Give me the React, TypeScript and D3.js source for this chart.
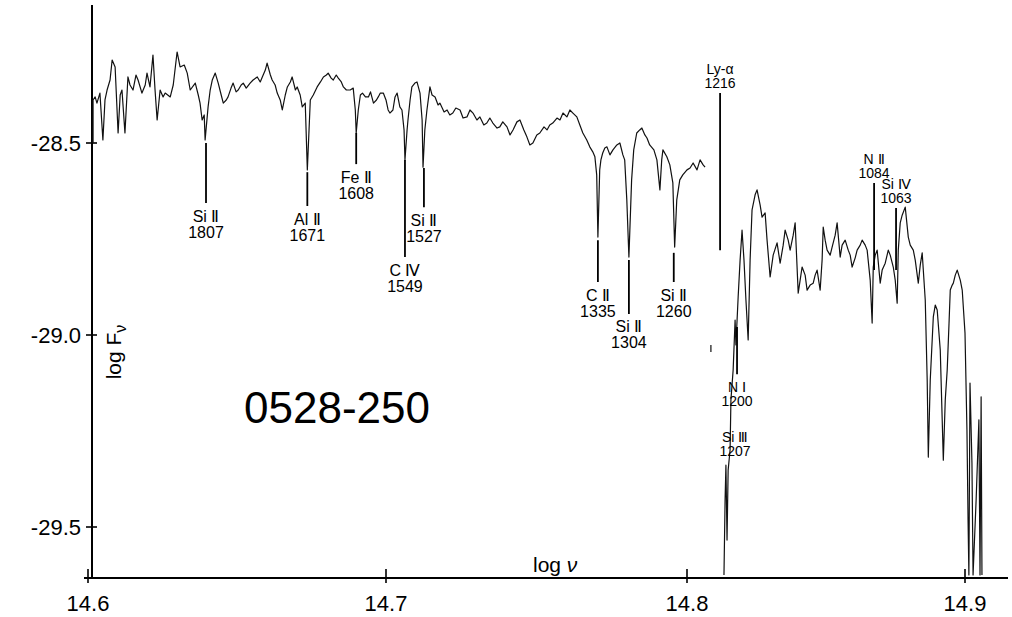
import React from 'react';
import * as d3 from 'd3';

// axis ticks
const xTicks = [14.6, 14.7, 14.8, 14.9];
const xTickLabels = ['14.6', '14.7', '14.8', '14.9'];
const yTicks = [-28.5, -29.0, -29.5];
const yTickLabels = ['-28.5', '-29.0', '-29.5'];

// spectrum of 0528-250 (null = gap in the trace)
const specNu = [
  14.6017, 14.6017, 14.6024, 14.603, 14.604, 14.605, 14.6057, 14.6064, 14.6074, 14.6081,
  14.6091, 14.6101, 14.6108, 14.6114, 14.6124, 14.6134, 14.6141, 14.6151, 14.6161, 14.6168,
  14.6181, 14.6192, 14.6198, 14.6208, 14.6218, 14.6225, 14.6232, 14.6242, 14.6252, 14.6259,
  14.6276, 14.6286, 14.6299, 14.6309, 14.6323, 14.6333, 14.6343, 14.636, 14.637, 14.6376,
  14.6383, 14.639, 14.6393, 14.6403, 14.641, 14.6417, 14.6427, 14.6437, 14.6447, 14.6454,
  14.6464, 14.647, 14.648, 14.6487, 14.6497, 14.6504, 14.6514, 14.6521, 14.6531, 14.6544,
  14.6554, 14.6568, 14.6578, 14.6585, 14.6595, 14.6601, 14.6612, 14.6618, 14.6628, 14.6635,
  14.6645, 14.6652, 14.6662, 14.6669, 14.6679, 14.6685, 14.6696, 14.6702, 14.6712, 14.6719,
  14.6729, 14.6736, 14.6746, 14.6756, 14.6769, 14.678, 14.679, 14.68, 14.6806, 14.6816,
  14.6823, 14.6833, 14.684, 14.685, 14.6857, 14.6867, 14.688, 14.689, 14.6897, 14.69,
  14.6907, 14.6914, 14.6921, 14.6931, 14.6941, 14.6948, 14.6958, 14.6968, 14.6974, 14.6981,
  14.6991, 14.7, 14.7007, 14.7013, 14.7023, 14.703, 14.7037, 14.7046, 14.7053, 14.706,
  14.7063, 14.707, 14.7073, 14.708, 14.7086, 14.7096, 14.7103, 14.7113, 14.712, 14.7123,
  14.7129, 14.7136, 14.7146, 14.7153, 14.7163, 14.7173, 14.7179, 14.7193, 14.7203, 14.7212,
  14.7222, 14.7232, 14.7246, 14.7256, 14.7269, 14.7279, 14.7289, 14.7302, 14.7312, 14.7325,
  14.7335, 14.7345, 14.7355, 14.7369, 14.7378, 14.7388, 14.7402, 14.7412, 14.7422, 14.7435,
  14.7445, 14.7458, 14.7468, 14.7478, 14.7488, 14.7501, 14.7511, 14.7525, 14.7535, 14.7544,
  14.7554, 14.7568, 14.7578, 14.7588, 14.7601, 14.7611, 14.7621, 14.7634, 14.7644, 14.7654,
  14.7667, 14.7677, 14.7687, 14.7694, 14.77, 14.7704, 14.771, 14.7714, 14.772, 14.7727,
  14.7734, 14.7744, 14.7754, 14.7767, 14.7777, 14.7787, 14.7793, 14.78, 14.7807, 14.7816,
  14.7823, 14.7833, 14.7843, 14.785, 14.786, 14.7867, 14.7876, 14.789, 14.79, 14.791,
  14.7916, 14.792, 14.7933, 14.7943, 14.7953, 14.7959, 14.7966, 14.7976, 14.7986, 14.8,
  14.8011, 14.8022, 14.8036, 14.8047, 14.8058, 14.8065,
  null,
  14.8086, 14.8086,
  null,
  14.8133, 14.8137, 14.814, 14.8144, 14.8148, 14.8155, 14.8158, 14.8166, 14.8173, 14.8176,
  14.8184, 14.8191, 14.8198, 14.8205, 14.8212, 14.822, 14.8227, 14.8234, 14.8245, 14.8252,
  14.8263, 14.827, 14.8281, 14.8288, 14.8299, 14.831, 14.8324, 14.8335, 14.8346, 14.8353,
  14.8364, 14.8371, 14.8382, 14.8389, 14.84, 14.8407, 14.8414, 14.8425, 14.8432, 14.8443,
  14.8454, 14.8461, 14.8468, 14.8479, 14.8486, 14.849, 14.8497, 14.8504, 14.8515, 14.8522,
  14.8533, 14.854, 14.8551, 14.8558, 14.8569, 14.858, 14.8587, 14.8594, 14.8605, 14.8612,
  14.8623, 14.863, 14.8641, 14.8648, 14.8659, 14.8666, 14.867, 14.8677, 14.8684, 14.8695,
  14.8702, 14.8713, 14.8724, 14.8731, 14.8742, 14.8749, 14.8756, 14.876, 14.8767, 14.8774,
  14.8785, 14.8796, 14.8803, 14.8814, 14.8821, 14.8832, 14.8839, 14.8846, 14.8857, 14.8864,
  14.8868, 14.8875, 14.8886, 14.8893, 14.89, 14.8911, 14.8918, 14.8922, 14.8929, 14.8936,
  14.8943, 14.8947, 14.8954, 14.8958, 14.8965, 14.8972, 14.8983, 14.899, 14.9, 14.9007,
  14.9011, 14.9014, 14.9018, 14.9025, 14.9029, 14.904, 14.905, 14.9054, 14.9058, 14.9061,
];
const specLogF = [
  -28.5, -28.388, -28.38, -28.396, -28.37, -28.492, -28.388, -28.362, -28.336, -28.284,
  -28.302, -28.474, -28.375, -28.362, -28.474, -28.328, -28.349, -28.362, -28.323, -28.336,
  -28.37, -28.349, -28.318, -28.354, -28.271, -28.362, -28.44, -28.362, -28.38, -28.37,
  -28.38, -28.349, -28.263, -28.302, -28.297, -28.318, -28.362, -28.344, -28.375, -28.396,
  -28.44, -28.427, -28.492, -28.406, -28.362, -28.336, -28.318, -28.344, -28.375, -28.396,
  -28.388, -28.38, -28.357, -28.344, -28.367, -28.362, -28.349, -28.344, -28.357, -28.344,
  -28.336, -28.328, -28.341, -28.328, -28.31, -28.292, -28.323, -28.336, -28.349, -28.37,
  -28.388, -28.414, -28.375, -28.354, -28.341, -28.328, -28.362, -28.354, -28.375, -28.406,
  -28.396, -28.57, -28.388, -28.375, -28.354, -28.341, -28.328, -28.323, -28.318, -28.331,
  -28.336, -28.323, -28.331, -28.341, -28.354, -28.362, -28.362, -28.357, -28.414, -28.474,
  -28.414, -28.375, -28.37, -28.38, -28.38, -28.367, -28.396, -28.388, -28.38, -28.37,
  -28.37, -28.388, -28.414, -28.422, -28.414, -28.38, -28.37, -28.406, -28.414, -28.466,
  -28.544, -28.466, -28.44, -28.388, -28.354, -28.344, -28.341, -28.37, -28.44, -28.563,
  -28.466, -28.414, -28.354, -28.375, -28.38, -28.401, -28.396, -28.419, -28.414, -28.427,
  -28.422, -28.409, -28.414, -28.435, -28.432, -28.414, -28.422, -28.44, -28.432, -28.453,
  -28.448, -28.435, -28.448, -28.461, -28.458, -28.445, -28.458, -28.479, -28.466, -28.445,
  -28.44, -28.466, -28.484, -28.505, -28.5, -28.479, -28.474, -28.458, -28.466, -28.453,
  -28.448, -28.435, -28.44, -28.422, -28.432, -28.414, -28.422, -28.432, -28.453, -28.474,
  -28.492, -28.51, -28.523, -28.536, -28.583, -28.745, -28.57, -28.544, -28.526, -28.513,
  -28.51, -28.531, -28.518, -28.505, -28.5, -28.531, -28.544, -28.648, -28.797, -28.596,
  -28.518, -28.474, -28.466, -28.461, -28.479, -28.487, -28.505, -28.518, -28.544, -28.622,
  -28.544, -28.518, -28.536, -28.557, -28.604, -28.771, -28.648, -28.596, -28.583, -28.57,
  -28.565, -28.552, -28.57, -28.544, -28.557, -28.563,
  null,
  -29.026, -29.044,
  null,
  -29.625, -29.43, -29.339, -29.534, -29.352, -29.299, -29.169, -29.091, -28.961, -29.026,
  -28.901, -28.805, -28.727, -28.805, -28.909, -29.013, -28.805, -28.674, -28.635, -28.622,
  -28.661, -28.693, -28.682, -28.753, -28.849, -28.792, -28.76, -28.813, -28.766, -28.727,
  -28.753, -28.779, -28.74, -28.708, -28.891, -28.857, -28.823, -28.844, -28.883, -28.87,
  -28.865, -28.844, -28.831, -28.883, -28.805, -28.719, -28.753, -28.779, -28.792, -28.771,
  -28.74, -28.708, -28.797, -28.766, -28.753, -28.779, -28.792, -28.823, -28.799, -28.779,
  -28.766, -28.753, -28.766, -28.779, -28.857, -28.969, -28.823, -28.792, -28.779, -28.865,
  -28.831, -28.813, -28.779, -28.792, -28.823, -28.857, -28.917, -28.779, -28.708, -28.688,
  -28.667, -28.745, -28.766, -28.779, -28.805, -28.865, -28.818, -28.786, -28.909, -29.117,
  -29.318, -29.117, -28.953, -28.922, -28.935, -29.039, -29.221, -29.326, -29.169, -29.091,
  -28.961, -28.883, -28.87, -28.865, -28.844, -28.831, -28.857, -28.883, -28.995, -29.247,
  -29.482, -29.625, -29.125, -29.333, -29.625, -29.43, -29.221, -29.625, -29.161, -29.625,
];

// identified absorption lines
const lineIon = ['Si Ⅱ', 'Al Ⅱ', 'Fe Ⅱ', 'C Ⅳ', 'Si Ⅱ', 'C Ⅱ', 'Si Ⅱ', 'Si Ⅱ', 'Ly-α', 'N Ⅰ', 'Si Ⅲ', 'N Ⅱ', 'Si Ⅳ'];
const lineWave = ['1807', '1671', '1608', '1549', '1527', '1335', '1304', '1260', '1216', '1200', '1207', '1084', '1063'];
const lineNu = [14.6396, 14.6736, 14.69, 14.7063, 14.7126, 14.7704, 14.7807, 14.7956, 14.8119, 14.818, 14.8173, 14.8673, 14.8752];
const lineTop = [-28.5, -28.576, -28.474, -28.544, -28.565, -28.753, -28.805, -28.786, -28.37, -28.979, -29.232, -28.604, -28.669];
const lineBottom = [-28.656, -28.664, -28.555, -28.797, -28.667, -28.862, -28.945, -28.862, -28.779, -29.102, -29.232, -28.831, -28.831];
const lineAbove = [false, false, false, false, false, false, false, false, true, false, false, true, true];

const FONT = 'Liberation Sans, Arial, sans-serif';

export default function App() {
  const W = 1012;
  const H = 617;
  const x = d3.scaleLinear().domain(xTicks).range([88, 386, 687, 965]);
  const y = d3.scaleLinear().domain([-28.5, -29.5]).range([143, 527]);
  const axisY = 578;
  const axisX = 92;

  const pts = specNu.map((n, i) => [n, specLogF[i]]);
  const path = d3
    .line<any>()
    .defined((d) => d[0] != null && d[1] != null)
    .x((d) => x(d[0]))
    .y((d) => y(d[1]))(pts);

  return (
    <svg
      width={W}
      height={H}
      viewBox={`0 0 ${W} ${H}`}
      style={{ position: 'absolute', left: 0, top: 0, background: '#fff' }}
    >
      <rect width={W} height={H} fill="#fff" />

      {/* axes */}
      <line x1={axisX} x2={axisX} y1={5} y2={axisY} stroke="#000" strokeWidth={2} />
      <line x1={84} x2={1008} y1={axisY} y2={axisY} stroke="#000" strokeWidth={2} />
      {yTicks.map((t, i) => (
        <g key={'y' + t}>
          <line x1={axisX - 6} x2={axisX + 5} y1={y(t)} y2={y(t)} stroke="#000" strokeWidth={1.6} />
          <text x={81} y={y(t)} dy="0.35em" textAnchor="end" fontFamily={FONT} fontSize={22}>
            {yTickLabels[i]}
          </text>
        </g>
      ))}
      {xTicks.map((t, i) => (
        <g key={'x' + t}>
          <line x1={x(t)} x2={x(t)} y1={axisY - 9} y2={axisY + 5} stroke="#000" strokeWidth={1.6} />
          <text x={x(t)} y={611} textAnchor="middle" fontFamily={FONT} fontSize={22}>
            {xTickLabels[i]}
          </text>
        </g>
      ))}

      {/* axis titles */}
      <text x={533} y={572} fontFamily={FONT} fontSize={21}>
        log <tspan fontStyle="italic">ν</tspan>
      </text>
      <text transform="translate(121,352) rotate(-90)" textAnchor="middle" fontFamily={FONT} fontSize={21}>
        log F<tspan fontSize={16} dy={5}>ν</tspan>
      </text>

      {/* spectrum */}
      <path d={path || ''} fill="none" stroke="#111" strokeWidth={1.2} strokeLinejoin="round" />

      {/* line identifications */}
      {lineIon.map((ion, i) => {
        const xm = x(lineNu[i]);
        const y1 = y(lineTop[i]);
        const y2 = y(lineBottom[i]);
        const fs = lineNu[i] > 14.805 ? 14 : 16;
        const c1 = lineAbove[i] ? y1 - 24 : y2 + 13;
        const c2 = c1 + fs;
        return (
          <g key={'l' + i} fontFamily={FONT} fontSize={fs} textAnchor="middle">
            {y2 - y1 > 1 && <line x1={xm} x2={xm} y1={y1} y2={y2} stroke="#000" strokeWidth={1.8} />}
            <text x={xm} y={c1} dy="0.35em">{ion}</text>
            <text x={xm} y={c2} dy="0.35em">{lineWave[i]}</text>
          </g>
        );
      })}

      {/* object name */}
      <text x={337} y={423} textAnchor="middle" fontFamily={FONT} fontSize={44}>
        0528-250
      </text>
    </svg>
  );
}
